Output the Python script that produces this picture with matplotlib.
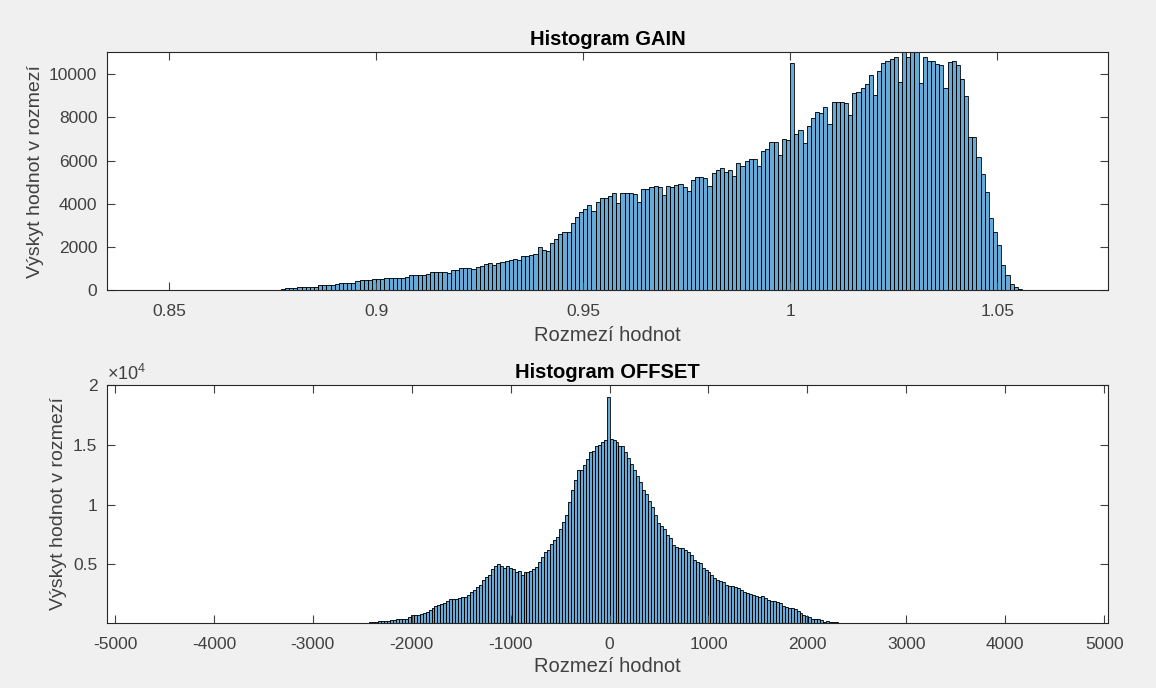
import matplotlib
matplotlib.use("Agg")
import matplotlib.pyplot as plt
import numpy as np

plt.rcParams['font.family'] = ['Liberation Sans', 'DejaVu Sans']
plt.rcParams['mathtext.fontset'] = 'custom'
plt.rcParams['mathtext.rm'] = 'Liberation Sans'
plt.rcParams['axes.unicode_minus'] = False

# GAIN histogram: bins of 0.001 starting at 0.877
gain_start = 0.877
gain_width = 0.001
gain_counts = [
    60, 70, 80, 110, 130, 130, 140, 140, 150, 210,
    210, 220, 230, 290, 330, 340, 340, 330, 430, 440,
    440, 450, 500, 500, 510, 550, 560, 560, 560, 570,
    620, 690, 690, 690, 690, 760, 820, 820, 820, 850,
    810, 930, 940, 1030, 1010, 1010, 960, 1070, 1130, 1190,
    1240, 1170, 1250, 1310, 1360, 1410, 1420, 1370, 1560, 1560,
    1620, 1650, 2000, 1870, 1830, 2170, 2360, 2600, 2700, 2700,
    3120, 3400, 3600, 3740, 3940, 3680, 4060, 4280, 4280, 4360,
    4480, 4020, 4480, 4480, 4480, 4430, 4060, 4680, 4680, 4790,
    4840, 4790, 4400, 4840, 4790, 4870, 4900, 4790, 4600, 5100,
    5250, 5250, 5180, 4840, 5440, 5560, 5640, 5490, 5560, 5300,
    5900, 5760, 6000, 6070, 6070, 5760, 6460, 6520, 6880, 6880,
    6260, 7000, 6950, 10540, 7220, 7420, 6800, 7620, 7960, 8270,
    8190, 8500, 7700, 8720, 8720, 8720, 8650, 8110, 9120, 9160,
    9380, 9530, 9970, 9040, 10150, 10540, 10630, 10700, 10820, 9660,
    11400, 10820, 11300, 11200, 9610, 10820, 10620, 10620, 10480, 10430,
    9380, 10560, 10630, 10430, 9800, 8990, 7080, 7080, 6180, 5380,
    4560, 3320, 2700, 2090, 1160, 700, 264, 125, 50, 10,
]

# OFFSET histogram: bins of 30 starting at -2430
offset_start = -2430
offset_width = 30
offset_counts = [
    170, 170, 180, 290, 300, 300, 300, 310, 310, 440,
    440, 440, 450, 580, 770, 775, 790, 870, 970, 1000,
    1190, 1380, 1520, 1620, 1700, 1800, 1900, 2100, 2110, 2110,
    2200, 2250, 2300, 2450, 2650, 2860, 3080, 3270, 3690, 3970,
    4110, 4580, 4880, 5000, 4900, 4720, 4860, 4720, 4580, 4380,
    4450, 4110, 4330, 4330, 4450, 4600, 4800, 5220, 5630, 6050,
    6190, 6690, 7080, 7300, 7920, 8550, 9110, 10220, 11190, 12020,
    12860, 12900, 13280, 13830, 14380, 14520, 14860, 15000, 15220, 15420,
    19020, 15500, 15400, 15220, 14860, 14860, 14380, 13900, 13400, 12900,
    12400, 11880, 11190, 10920, 10300, 9800, 9170, 8500, 8220, 7940,
    7440, 7170, 6610, 6420, 6330, 6330, 6200, 6050, 5780, 5360,
    5220, 5080, 4670, 4500, 4380, 4110, 3880, 3690, 3610, 3500,
    3280, 3220, 3220, 3080, 3000, 2860, 2720, 2630, 2530, 2450,
    2380, 2300, 2340, 2200, 2030, 1940, 1940, 1850, 1800, 1550,
    1470, 1330, 1330, 1250, 1130, 920, 780, 690, 580, 440,
    440, 440, 380, 220, 300, 170, 170, 170,
]

gain_ticks = [0.85, 0.9, 0.95, 1.0, 1.05]
gain_ticklabels = ['0.85', '0.9', '0.95', '1', '1.05']
gain_yticks = [0, 2000, 4000, 6000, 8000, 10000]
offset_ticks = [-5000, -4000, -3000, -2000, -1000, 0, 1000, 2000, 3000, 4000, 5000]
offset_yticks = [5000, 10000, 15000, 20000]
offset_yticklabels = ['0.5', '1', '1.5', '2']

face = (0.0, 0.447, 0.741)
dark = '#262626'
grey = '#404040'

fig = plt.figure(figsize=(11.56, 6.88), dpi=100, facecolor='#f0f0f0')
ax1 = fig.add_axes([0.0926, 0.5785, 0.866, 0.3459])
ax2 = fig.add_axes([0.0926, 0.0945, 0.866, 0.3459])


def style(ax):
    ax.set_facecolor('white')
    for s in ax.spines.values():
        s.set_color(dark)
        s.set_linewidth(0.8)
    ax.tick_params(direction='in', length=5.5, width=0.8, colors=grey,
                   labelsize=12.5, top=True, right=True)
    ax.tick_params(axis='x', pad=10)
    ax.tick_params(axis='y', pad=7)


g_edges = gain_start + gain_width * np.arange(len(gain_counts))
ax1.bar(g_edges, gain_counts, width=gain_width, align='edge', color=face,
        alpha=0.6, edgecolor='none')
ax1.bar(g_edges, gain_counts, width=gain_width, align='edge', fill=False,
        edgecolor='black', linewidth=0.6)
ax1.set_xlim(0.835, 1.0768)
ax1.set_ylim(0, 11030)
ax1.set_xticks(gain_ticks)
ax1.set_xticklabels(gain_ticklabels)
ax1.set_yticks(gain_yticks)
style(ax1)
ax1.set_title('Histogram GAIN', fontsize=14.5, fontweight='bold', color='black', pad=5)
ax1.set_xlabel('Rozmezí hodnot', fontsize=14.5, color=grey, labelpad=5)
ax1.set_ylabel('Výskyt hodnot v rozmezí', fontsize=14, color=grey, labelpad=4)

o_edges = offset_start + offset_width * np.arange(len(offset_counts))
ax2.bar(o_edges, offset_counts, width=offset_width, align='edge', color=face,
        alpha=0.6, edgecolor='none')
ax2.bar(o_edges, offset_counts, width=offset_width, align='edge', fill=False,
        edgecolor='black', linewidth=0.6)
ax2.set_xlim(-5080, 5040)
ax2.set_ylim(100, 20000)
ax2.set_xticks(offset_ticks)
ax2.set_yticks(offset_yticks)
ax2.set_yticklabels(offset_yticklabels)
style(ax2)
ax2.set_title('Histogram OFFSET', fontsize=14.5, fontweight='bold', color='black', pad=5)
ax2.set_xlabel('Rozmezí hodnot', fontsize=14.5, color=grey, labelpad=4)
ax2.set_ylabel('Výskyt hodnot v rozmezí', fontsize=14, color=grey, labelpad=4)
ax2.text(0.0, 1.005, r'$\mathregular{\times10^{4}}$', transform=ax2.transAxes,
         fontsize=13, color=grey, ha='left', va='bottom')

fig.savefig('out.png', dpi=100, facecolor=fig.get_facecolor())
